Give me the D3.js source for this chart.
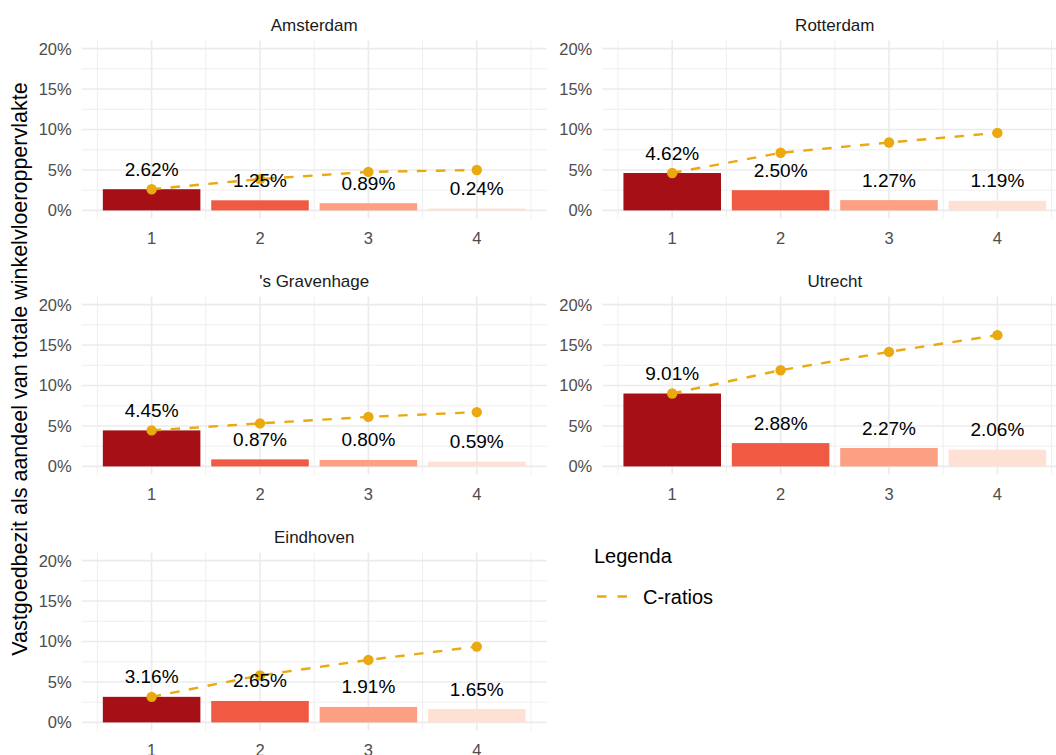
<!DOCTYPE html>
<html>
<head>
<meta charset="utf-8">
<script src="https://cdn.jsdelivr.net/npm/d3@7"></script>
<style>
  html, body { margin: 0; padding: 0; background: #fff; }
  svg { display: block; font-family: "Liberation Sans", Arial, sans-serif; }
</style>
</head>
<body>
<svg id="chart" width="1056" height="755"></svg>
<script>
// ---- data ----
const cities = ["Amsterdam", "Rotterdam", "'s Gravenhage", "Utrecht", "Eindhoven"];
const ranks = [1, 2, 3, 4];
const shareAmsterdam  = [2.62, 1.25, 0.89, 0.24];
const shareRotterdam  = [4.62, 2.50, 1.27, 1.19];
const shareGravenhage = [4.45, 0.87, 0.80, 0.59];
const shareUtrecht    = [9.01, 2.88, 2.27, 2.06];
const shareEindhoven  = [3.16, 2.65, 1.91, 1.65];
const cratioAmsterdam  = [2.62, 3.87, 4.76, 5.00];
const cratioRotterdam  = [4.62, 7.12, 8.39, 9.58];
const cratioGravenhage = [4.45, 5.32, 6.12, 6.71];
const cratioUtrecht    = [9.01, 11.89, 14.16, 16.22];
const cratioEindhoven  = [3.16, 5.81, 7.72, 9.37];
const yTicks = [0, 5, 10, 15, 20];
const yMinor = [2.5, 7.5, 12.5, 17.5];
const xMinor = [0.5, 1.5, 2.5, 3.5, 4.5];
const barColors = ["#A50F15", "#F15A42", "#FC9F83", "#FEE1D4"];
const yTitle = "Vastgoedbezit als aandeel van totale winkelvloeroppervlakte";
const legendTitle = "Legenda";
const legendLabel = "C-ratios";

const shares = [shareAmsterdam, shareRotterdam, shareGravenhage, shareUtrecht, shareEindhoven];
const cratios = [cratioAmsterdam, cratioRotterdam, cratioGravenhage, cratioUtrecht, cratioEindhoven];

// ---- layout ----
const svg = d3.select("#chart");
const colX = [81.7, 602.3];
const rowY = [40.5, 296.5, 552.5];
const pw = 465, ph = 178;
const lineColor = "#E9A90F";
const fmt = v => v.toFixed(2) + "%";

const x = d3.scaleLinear().domain([0.355, 4.645]).range([0, pw]);
const y = d3.scaleLinear().domain([-1, 21]).range([ph, 0]);

cities.forEach((city, i) => {
  const col = i % 2, row = Math.floor(i / 2);
  const g = svg.append("g").attr("transform", `translate(${colX[col]},${rowY[row]})`);

  // grid
  g.selectAll(".ymin").data(yMinor).join("line")
    .attr("x1", 0).attr("x2", pw).attr("y1", d => y(d)).attr("y2", d => y(d))
    .attr("stroke", "#EBEBEB").attr("stroke-width", 0.8);
  g.selectAll(".xmin").data(xMinor).join("line")
    .attr("y1", 0).attr("y2", ph).attr("x1", d => x(d)).attr("x2", d => x(d))
    .attr("stroke", "#EBEBEB").attr("stroke-width", 0.8);
  g.selectAll(".ymaj").data(yTicks).join("line")
    .attr("x1", 0).attr("x2", pw).attr("y1", d => y(d)).attr("y2", d => y(d))
    .attr("stroke", "#EBEBEB").attr("stroke-width", 1.6);
  g.selectAll(".xmaj").data(ranks).join("line")
    .attr("y1", 0).attr("y2", ph).attr("x1", d => x(d)).attr("x2", d => x(d))
    .attr("stroke", "#EBEBEB").attr("stroke-width", 1.6);

  // axes labels
  g.selectAll(".yl").data(yTicks).join("text")
    .attr("x", -10).attr("y", d => y(d)).attr("dy", "0.36em")
    .attr("text-anchor", "end").attr("font-size", 16.5).attr("fill", "#4D4D4D")
    .text(d => d + "%");
  g.selectAll(".xl").data(ranks).join("text")
    .attr("x", d => x(d)).attr("y", ph + 25)
    .attr("text-anchor", "middle").attr("font-size", 16.5).attr("fill", "#4D4D4D")
    .text(d => d);

  // strip
  g.append("text").attr("x", pw / 2).attr("y", -10)
    .attr("text-anchor", "middle").attr("font-size", 17).attr("fill", "#1A1A1A")
    .text(city);

  const data = ranks.map((r, k) => ({ r, v: shares[i][k], c: cratios[i][k], k }));
  const bw = x(1.45) - x(0.55);

  // bars
  g.selectAll(".bar").data(data).join("rect")
    .attr("x", d => x(d.r) - bw / 2).attr("width", bw)
    .attr("y", d => y(d.v)).attr("height", d => y(0) - y(d.v))
    .attr("fill", d => barColors[d.k]);

  // line
  const line = d3.line().x(d => x(d.r)).y(d => y(d.c));
  g.append("path").datum(data).attr("d", line)
    .attr("fill", "none").attr("stroke", lineColor).attr("stroke-width", 2.4)
    .attr("stroke-dasharray", "9.5,9.5");
  g.selectAll(".pt").data(data).join("circle")
    .attr("cx", d => x(d.r)).attr("cy", d => y(d.c)).attr("r", 5.2)
    .attr("fill", lineColor);

  // value labels
  g.selectAll(".vl").data(data).join("text")
    .attr("x", d => x(d.r)).attr("y", d => y(d.v) - 13.5)
    .attr("text-anchor", "middle").attr("font-size", 19).attr("fill", "#000")
    .text(d => fmt(d.v));
});

// y axis title
svg.append("text")
  .attr("transform", "translate(27,369) rotate(-90)")
  .attr("text-anchor", "middle").attr("font-size", 21.5).attr("fill", "#000")
  .text(yTitle);

// legend
svg.append("text").attr("x", 594).attr("y", 563).attr("font-size", 20).attr("fill", "#000")
  .text(legendTitle);
svg.append("line").attr("x1", 597).attr("x2", 627.5).attr("y1", 596.5).attr("y2", 596.5)
  .attr("stroke", lineColor).attr("stroke-width", 2.4).attr("stroke-dasharray", "9.5,11");
svg.append("text").attr("x", 643).attr("y", 604).attr("font-size", 20).attr("fill", "#000")
  .text(legendLabel);
</script>
</body>
</html>
